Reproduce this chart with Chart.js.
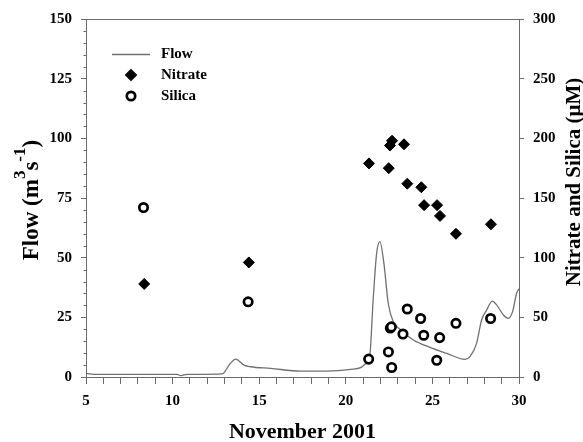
<!DOCTYPE html>
<html lang="en">
  <head>
    <meta charset="utf-8" />
    <title>Flow, nitrate and silica</title>
    <script src="https://cdn.jsdelivr.net/npm/chart.js@4.4.1/dist/chart.umd.min.js"></script>
    <style>
      html, body { margin: 0; padding: 0; background: #fff; }
      #wrap { width: 583px; height: 442px; }
    </style>
  </head>
  <body>
    <div id="wrap"><canvas id="flow_chart" width="583" height="442"></canvas></div>
    <script>
      // flow (m3 s-1), left axis
      const flowDays = [5, 5.65, 10.27, 10.47, 10.85, 12.87, 13.26, 13.64, 14.12, 14.5, 15.66, 17.4, 18.93, 20.28, 20.86, 21.2,
        21.36, 21.59, 21.78, 21.97, 22.2, 22.45, 22.74, 23.13, 23.9, 24.86, 25.83, 26.88, 27.17, 27.55, 27.84,
        28.13, 28.46, 28.71, 29.1, 29.38, 29.63, 29.86, 30];
      const flowValues = [1.5, 1.1, 1.1, 0.6, 1.1, 1.3, 5.0, 7.5, 5.0, 4.3, 3.6, 2.5, 2.5, 3.2, 3.9, 5.7,
        7.1, 33.6, 51.8, 56.7, 47.6, 30.9, 23.2, 20, 15.5, 12.4, 9.9, 7.4, 8.5, 14.1, 23.9,
        28, 31.8, 30.2, 26, 24.6, 27.4, 35, 37];

      // nitrate and silica (uM), right axis
      const nitrateDays = [8.36, 14.4, 21.34, 22.48, 22.55, 22.67, 23.36, 23.55, 24.36, 24.52, 25.27, 25.44, 26.36, 28.38];
      const nitrateValues = [78, 96, 179, 175, 194, 198, 195, 162, 159, 144, 144, 135, 120, 128];
      const silicaDays = [8.32, 14.36, 21.32, 22.46, 22.57, 22.63, 22.65, 23.3, 23.55, 24.32, 24.5, 25.25, 25.42, 26.36, 28.36];
      const silicaValues = [142, 63, 15, 21, 41, 42, 8, 36, 57, 49, 35, 14, 33, 45, 49];

      const xTicks = [5, 10, 15, 20, 25, 30];
      const flowTicks = [0, 25, 50, 75, 100, 125, 150];
      const chemTicks = [0, 50, 100, 150, 200, 250, 300];

      const SERIF = "'Liberation Serif', 'Times New Roman', serif";
      const AXIS_GREY = "#6b6b6b";

      function toPoints(xs, ys) {
        return xs.map((x, i) => ({ x: x, y: ys[i] }));
      }

      const data = {
        datasets: [
          {
            label: "Flow",
            data: toPoints(flowDays, flowValues),
            yAxisID: "y",
            showLine: true,
            borderColor: "#707070",
            borderWidth: 1.3,
            pointRadius: 0,
            cubicInterpolationMode: "monotone",
            order: 3,
          },
          {
            label: "Nitrate",
            data: toPoints(nitrateDays, nitrateValues),
            yAxisID: "y2",
            showLine: false,
            pointStyle: "rectRot",
            pointRadius: 5.5,
            backgroundColor: "#000",
            borderColor: "#000",
            borderWidth: 1,
            order: 1,
          },
          {
            label: "Silica",
            data: toPoints(silicaDays, silicaValues),
            yAxisID: "y2",
            showLine: false,
            pointStyle: "circle",
            pointRadius: 4.2,
            backgroundColor: "#fff",
            borderColor: "#000",
            borderWidth: 2.7,
            order: 2,
          },
        ],
      };

      const tickFont = { family: SERIF, size: 15, weight: "bold" };

      // titles, legend, top frame line and minor ticks
      const decorations = {
        id: "decorations",
        afterDraw(chart) {
          const ctx = chart.ctx;
          const area = chart.chartArea;
          const yScale = chart.scales.y;
          ctx.save();

          // top frame line
          ctx.strokeStyle = AXIS_GREY;
          ctx.lineWidth = 1;
          ctx.beginPath();
          ctx.moveTo(area.left, area.top + 0.5);
          ctx.lineTo(area.right, area.top + 0.5);
          ctx.stroke();

          // minor ticks on the flow axis
          ctx.beginPath();
          for (let v = 5; v < 150; v += 5) {
            if (v % 25 === 0) continue;
            const py = Math.round(yScale.getPixelForValue(v)) + 0.5;
            ctx.moveTo(area.left - 2.5, py);
            ctx.lineTo(area.left, py);
          }
          ctx.stroke();

          ctx.fillStyle = "#000";
          ctx.font = "bold 22px " + SERIF;

          // x title
          ctx.textAlign = "center";
          ctx.textBaseline = "middle";
          ctx.fillText("November 2001", (area.left + area.right) / 2, 432);

          // left title with superscripts
          const parts = [
            { t: "Flow (m", sup: false },
            { t: "3", sup: true },
            { t: "s", sup: false },
            { t: "-1", sup: true },
            { t: ")", sup: false },
          ];
          const mainFont = "bold 23px " + SERIF;
          const supFont = "bold 17px " + SERIF;
          let total = 0;
          parts.forEach((p) => {
            ctx.font = p.sup ? supFont : mainFont;
            p.w = ctx.measureText(p.t).width;
            total += p.w;
          });
          ctx.save();
          ctx.translate(38, 200);
          ctx.rotate(-Math.PI / 2);
          ctx.textAlign = "left";
          ctx.textBaseline = "alphabetic";
          let cx = -total / 2;
          parts.forEach((p) => {
            ctx.font = p.sup ? supFont : mainFont;
            ctx.fillText(p.t, cx, p.sup ? -13 : 0);
            cx += p.w;
          });
          ctx.restore();

          // right title, reading bottom to top
          ctx.save();
          ctx.translate(580, 182);
          ctx.rotate(-Math.PI / 2);
          ctx.font = "bold 21px " + SERIF;
          ctx.textAlign = "center";
          ctx.textBaseline = "alphabetic";
          ctx.fillText("Nitrate and Silica (\u03bcM)", 0, 0);
          ctx.restore();

          // legend
          const rows = [54, 75, 96];
          const markX = 131;
          const textX = 161;
          ctx.font = "bold 15px " + SERIF;
          ctx.textAlign = "left";
          ctx.textBaseline = "middle";
          chart.data.datasets.forEach((ds, i) => {
            const ry = rows[i];
            if (ds.showLine) {
              ctx.strokeStyle = ds.borderColor;
              ctx.lineWidth = ds.borderWidth;
              ctx.beginPath();
              ctx.moveTo(112, ry + 0.5);
              ctx.lineTo(150, ry + 0.5);
              ctx.stroke();
            } else {
              Chart.helpers.drawPoint(ctx, {
                pointStyle: ds.pointStyle,
                radius: ds.pointRadius,
                borderWidth: ds.borderWidth,
                rotation: 0,
              }, markX, ry);
              ctx.fillStyle = ds.backgroundColor;
              ctx.strokeStyle = ds.borderColor;
              ctx.lineWidth = ds.borderWidth;
              ctx.fill();
              ctx.stroke();
            }
            ctx.fillStyle = "#000";
            ctx.fillText(ds.label, textX, ry);
          });

          ctx.restore();
        },
      };

      const config = {
        type: "scatter",
        data: data,
        options: {
          responsive: false,
          animation: false,
          layout: { padding: { top: 19, left: 0, right: 0, bottom: 0 } },
          plugins: {
            legend: { display: false },
            tooltip: { enabled: false },
          },
          scales: {
            x: {
              type: "linear",
              position: "bottom",
              min: 5,
              max: 30,
              afterFit: (scale) => { scale.height = 65; },
              afterBuildTicks: (scale) => {
                const t = [];
                for (let v = 5; v <= 30; v++) t.push({ value: v });
                scale.ticks = t;
              },
              ticks: {
                autoSkip: false,
                maxRotation: 0,
                padding: 8,
                color: "#000",
                font: tickFont,
                callback: (v) => (xTicks.includes(v) ? String(v) : ""),
              },
              grid: { drawOnChartArea: false, tickLength: 7, color: AXIS_GREY },
              border: { color: AXIS_GREY },
            },
            y: {
              position: "left",
              min: 0,
              max: 150,
              afterFit: (scale) => { scale.width = 86; },
              afterBuildTicks: (scale) => {
                scale.ticks = flowTicks.map((v) => ({ value: v }));
              },
              ticks: { padding: 9, color: "#000", font: tickFont },
              grid: { drawOnChartArea: false, tickLength: 5, color: AXIS_GREY },
              border: { color: AXIS_GREY },
            },
            y2: {
              position: "right",
              min: 0,
              max: 300,
              afterFit: (scale) => { scale.width = 64; },
              afterBuildTicks: (scale) => {
                scale.ticks = chemTicks.map((v) => ({ value: v }));
              },
              ticks: { padding: 9, color: "#000", font: tickFont },
              grid: { drawOnChartArea: false, tickLength: 5, color: AXIS_GREY },
              border: { color: AXIS_GREY },
            },
          },
        },
        plugins: [decorations],
      };

      const flowChart = new Chart(document.getElementById("flow_chart"), config);
    </script>
  </body>
</html>
